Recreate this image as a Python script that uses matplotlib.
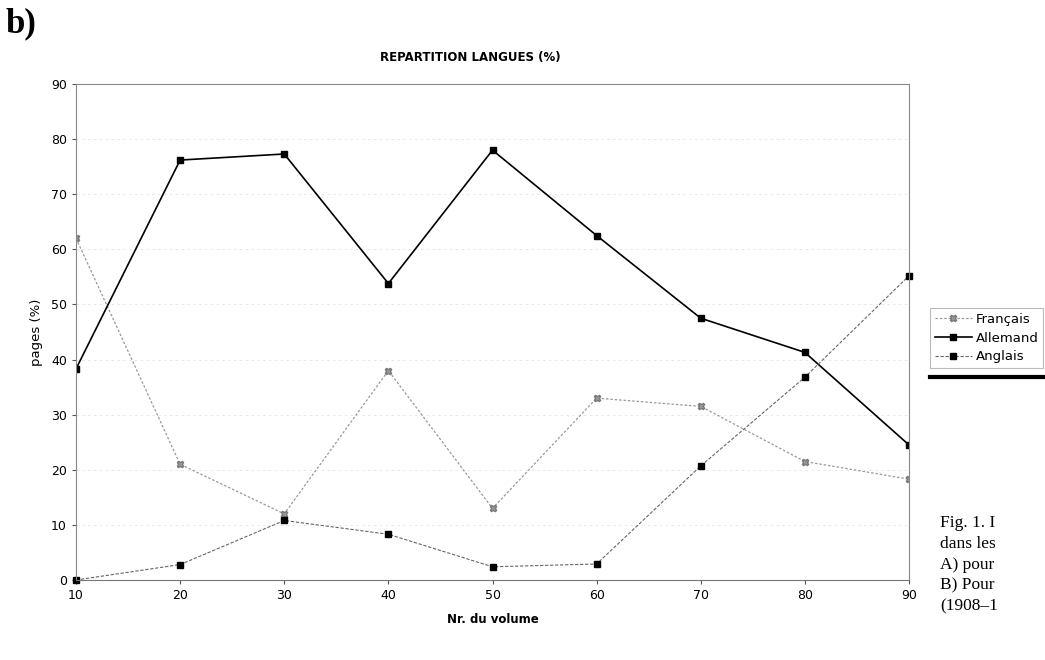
import matplotlib.pyplot as plt
from matplotlib.lines import Line2D
import numpy as np

volumes = [10, 20, 30, 40, 50, 60, 70, 80, 90]
francais = [62, 21, 12, 38, 13, 33, 31.5, 21.5, 18.3]
allemand = [38.3, 76.2, 77.3, 53.8, 78, 62.5, 47.5, 41.3, 24.5]
anglais = [0, 2.8, 10.8, 8.3, 2.4, 2.9, 20.7, 36.8, 55.2]

fig = plt.figure(figsize=(10.45, 6.6), dpi=100)
ax = fig.add_axes([76 / 1045, 80 / 660, (909 - 76) / 1045, (580 - 84) / 660])

# lignes de grille effacées (scan)
for yv in range(10, 90, 10):
    ax.axhline(yv, color='#e4e4e4', lw=0.6, ls=(0, (3, 4)), zorder=0)

ax.plot(volumes, francais, color='#999999', lw=0.9, ls=(0, (2, 1.5)),
        marker='X', ms=5, mfc='#999999', mec='#777777', label='Français')
ax.plot(volumes, allemand, color='black', lw=1.2,
        marker='s', ms=5, mfc='black', mec='black', label='Allemand')
ax.plot(volumes, anglais, color='#666666', lw=0.8, ls=(0, (3, 1.5)),
        marker='s', ms=5, mfc='black', mec='black', label='Anglais', clip_on=False)

ax.set_xlim(10, 90)
ax.set_ylim(0, 90)
ax.set_xticks(volumes)
ax.set_yticks(range(0, 91, 10))
ax.tick_params(labelsize=9, length=3, color='#555555')

for s in ['top', 'right', 'left']:
    ax.spines[s].set_color('#888888')
    ax.spines[s].set_linestyle((0, (1, 1)))
    ax.spines[s].set_linewidth(0.8)
ax.spines['bottom'].set_color('#777777')

ax.set_xlabel('Nr. du volume', fontsize=8.5, fontweight='bold', labelpad=8)
ax.set_ylabel('pages (%)', fontsize=9.5, labelpad=6)

fig.text(470 / 1045, 1 - 58 / 660, 'REPARTITION LANGUES (%)', fontsize=8.5,
         fontweight='bold', ha='center', va='center')
fig.text(5 / 1045, 1 - 24 / 660, 'b)', fontsize=25, fontweight='bold',
         family='Liberation Serif', ha='left', va='center')

leg = fig.legend(loc='upper left', bbox_to_anchor=(930 / 1045, 1 - 308 / 660),
                 fontsize=9.5, frameon=True, fancybox=False, handlelength=2.8,
                 borderpad=0.35, labelspacing=0.45, handletextpad=0.3,
                 borderaxespad=0)
leg.get_frame().set_edgecolor('#aaaaaa')
leg.get_frame().set_linewidth(0.8)
fig.add_artist(Line2D([930 / 1045, 1.0], [1 - 377 / 660, 1 - 377 / 660],
                      color='black', lw=3, transform=fig.transFigure))

fig_txt = 'Fig. 1. I\ndans les\nA) pour\nB) Pour\n(1908–1'
fig.text(940 / 1045, 1 - 515 / 660, fig_txt, fontsize=12.5,
         family='Liberation Serif', ha='left', va='top', linespacing=1.4)

fig.savefig('out.png', dpi=100)
